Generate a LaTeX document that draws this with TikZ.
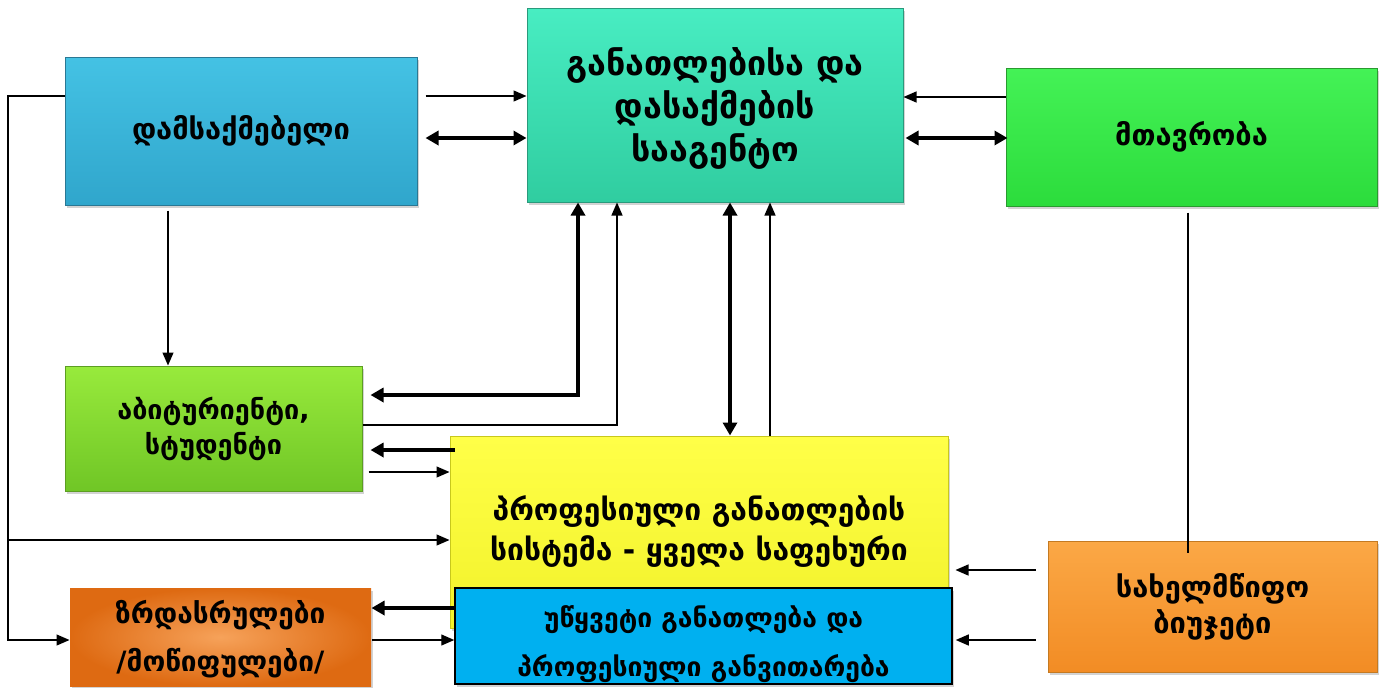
\documentclass[tikz,border=0pt]{standalone}
\usepackage{fontspec}
\newfontfamily\geo{DejaVu Sans}
\usetikzlibrary{arrows.meta,shadows}
\definecolor{agA}{HTML}{48EDC2}\definecolor{agB}{HTML}{30CDA0}\definecolor{agE}{HTML}{2A9A7C}
\definecolor{emA}{HTML}{44C2E4}\definecolor{emB}{HTML}{30A6CC}\definecolor{emE}{HTML}{2A7894}
\definecolor{goA}{HTML}{44F256}\definecolor{goB}{HTML}{2CDC3C}\definecolor{goE}{HTML}{2A9A30}
\definecolor{apA}{HTML}{98EA3C}\definecolor{apB}{HTML}{70C626}\definecolor{apE}{HTML}{5C9E22}
\definecolor{yeA}{HTML}{FFFF48}\definecolor{yeB}{HTML}{F2F22A}\definecolor{yeE}{HTML}{C8C81C}
\definecolor{adA}{HTML}{F6A25A}\definecolor{adB}{HTML}{DE6A12}
\definecolor{blA}{HTML}{00B0F0}
\definecolor{buA}{HTML}{FBA846}\definecolor{buB}{HTML}{F28C24}\definecolor{buE}{HTML}{C47A22}
\begin{document}
\begin{tikzpicture}[x=1pt,y=-1pt,
  box/.style={inner sep=0pt,align=center,text=black,line width=1pt,
    drop shadow={shadow xshift=2pt,shadow yshift=-3pt,opacity=0.35}},
  thinar/.style={line width=1.3pt,-{Triangle[length=13pt,width=11pt]}},
  thickar/.style={line width=4pt,-{Triangle[length=13pt,width=14pt]}},
  thickbi/.style={line width=4pt,{Triangle[length=13pt,width=14pt]}-{Triangle[length=13pt,width=14pt]}},
  plain/.style={line width=1.3pt}]
\useasboundingbox (0,0) rectangle (1387,688);
% boxes
\node[box,minimum width=376pt,minimum height=194pt,top color=agA,bottom color=agB,draw=agE,
  font=\geo\bfseries\fontsize{34}{43}\selectfont] (ag) at (715,105) {\rule{0pt}{34pt}განათლებისა და\\დასაქმების\\სააგენტო};
\node[box,minimum width=352pt,minimum height=148pt,top color=emA,bottom color=emB,draw=emE,
  font=\geo\bfseries\fontsize{29}{30}\selectfont] (emp) at (241,131) {დამსაქმებელი};
\node[box,minimum width=371pt,minimum height=138pt,top color=goA,bottom color=goB,draw=goE,
  font=\geo\bfseries\fontsize{29}{30}\selectfont] (gov) at (1191.5,137) {მთავრობა};
\node[box,minimum width=297pt,minimum height=125pt,top color=apA,bottom color=apB,draw=apE,
  font=\geo\bfseries\fontsize{27}{35}\selectfont] (app) at (213.5,428.5) {აბიტურიენტი,\\სტუდენტი};
\node[box,minimum width=498pt,minimum height=192pt,top color=yeA,bottom color=yeB,draw=yeE,
  font=\geo\bfseries\fontsize{30}{40}\selectfont] (yel) at (699,532) {პროფესიული განათლების\\სისტემა -  ყველა საფეხური};
\node[box,minimum width=301pt,minimum height=98pt,inner color=adA,outer color=adB,
  font=\geo\bfseries\fontsize{28}{48}\selectfont] (ad) at (220.5,637) {\rule{0pt}{28pt}ზრდასრულები\\/მოწიფულები/};
\node[box,minimum width=497pt,minimum height=96pt,fill=blA,draw=black,line width=1.5pt,drop shadow={opacity=0},
  font=\geo\bfseries\fontsize{26.5}{49}\selectfont] (blu) at (703.5,636) {\rule{0pt}{38pt}უწყვეტი განათლება და\\პროფესიული განვითარება};
\node[box,minimum width=329pt,minimum height=131pt,top color=buA,bottom color=buB,draw=buE,
  font=\geo\bfseries\fontsize{29}{36}\selectfont] (bud) at (1212.5,606.5) {სახელმწიფო\\ბიუჯეტი};
% connectors
\draw[thinar,shorten <=8pt] (emp.east|-0,96) -- (ag.west|-0,96);
\draw[thickbi,shorten <=8pt] (emp.east|-0,138) -- (ag.west|-0,138);
\draw[thinar] (gov.west|-0,97) -- (ag.east|-0,97);
\draw[thickbi,shorten <=2pt,shorten >=-2pt] (ag.east|-0,138) -- (gov.west|-0,138);
\coordinate (bt) at (8,96);
\coordinate (bb) at (8,640);
\coordinate (bm) at (8,540);
\draw[plain] (emp.west|-0,96) -- (bt) -- (bb);
\draw[thinar,shorten <=-0.65pt] (bb) -- (ad.west|-0,640);
\draw[thinar] (bm) -- (yel.west|-0,540);
\draw[thinar,shorten <=5pt] (emp.south-|168,0) -- (app.north-|168,0);
\draw[thickbi,shorten >=8pt] (ag.south-|578,0) |- (app.east|-0,395);
\draw[thinar] (app.east|-0,425) -| (ag.south-|617,0);
\draw[thickar,shorten <=-5pt,shorten >=8pt] (yel.west|-0,450) -- (app.east|-0,450);
\draw[thinar,shorten <=6pt] (app.east|-0,472) -- (yel.west|-0,472);
\draw[thickbi] (ag.south-|730,0) -- (yel.north-|730,0);
\draw[thinar] (yel.north-|770,0) -- (ag.south-|770,0);
\draw[plain,shorten <=6pt,shorten >=-12pt] (gov.south-|1188,0) -- (bud.north-|1188,0);
\draw[thinar,shorten <=12pt,shorten >=7pt] (bud.west|-0,570) -- (yel.east|-0,570);
\draw[thinar,shorten <=12pt,shorten >=3pt] (bud.west|-0,640) -- (blu.east|-0,640);
\draw[thickar] (blu.west|-0,608) -- (ad.east|-0,608);
\draw[thinar] (ad.east|-0,640) -- (blu.west|-0,640);
\end{tikzpicture}
\end{document}
